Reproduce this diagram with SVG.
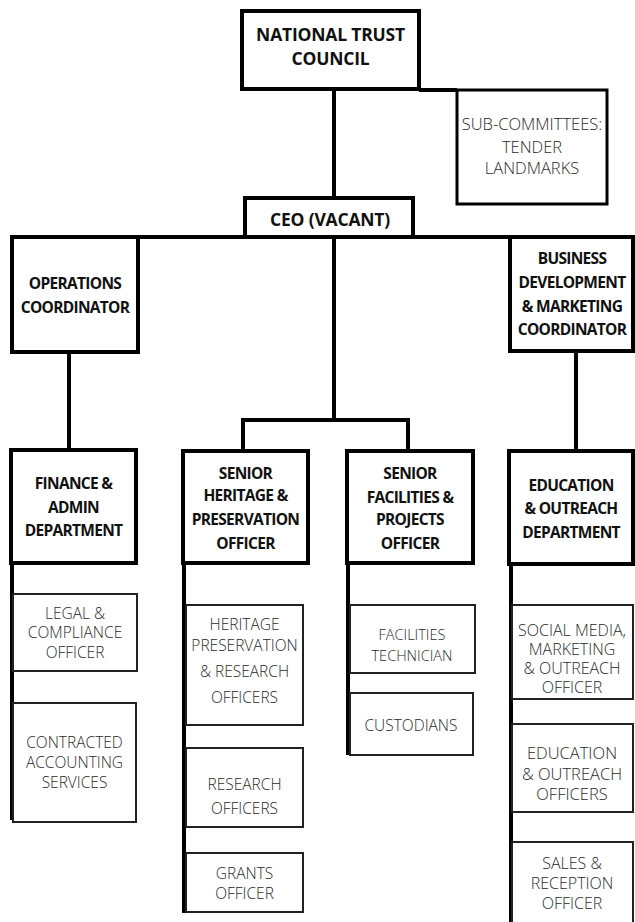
<svg xmlns="http://www.w3.org/2000/svg" width="635" height="922" viewBox="0 0 635 922">
<style>
.main{fill:#fff;stroke:#000;stroke-width:4}
.sub{fill:#fff;stroke:#222;stroke-width:2}
.subc{fill:#fff;stroke:#000;stroke-width:3}
.b{font-family:"Open Sans","Liberation Sans",sans-serif;font-weight:700;font-size:15.5px;fill:#111;text-anchor:middle;dominant-baseline:central;letter-spacing:-0.7px}
.bt{font-size:17.5px;letter-spacing:-0.2px}
.l{font-family:"Open Sans","Liberation Sans",sans-serif;font-weight:300;font-size:15.5px;fill:#2a2a2a;text-anchor:middle;dominant-baseline:central}
.c line,.c polyline{stroke:#000;stroke-width:4;fill:none}
</style>
<g class="c" id="connectors">
<line x1="334" y1="89" x2="334" y2="198"/>
<line x1="419" y1="90" x2="457" y2="90"/>
<line x1="138" y1="237" x2="510" y2="237"/>
<line x1="69" y1="352" x2="69" y2="450"/>
<line x1="576" y1="352" x2="576" y2="451"/>
<line x1="334" y1="237" x2="334" y2="420"/>
<polyline points="243,451 243,420 408,420 408,451"/>
<line x1="12" y1="563" x2="12" y2="820"/>
<line x1="184" y1="563" x2="184" y2="913"/>
<line x1="348" y1="563" x2="348" y2="755"/>
<line x1="511" y1="564" x2="511" y2="922"/>
</g>
<g id="ntc"><rect class="main" x="242" y="11" width="177" height="78"/>
<text class="b bt" x="330.5" y="34">NATIONAL TRUST</text><text class="b bt" x="330.5" y="58">COUNCIL</text></g>
<g id="subcommittees"><rect class="subc" x="457" y="90" width="150" height="114"/>
<text class="l" style="font-size:16.5px" x="532" y="123">SUB-COMMITTEES:</text><text class="l" style="font-size:16.5px" x="532" y="146">TENDER</text><text class="l" style="font-size:16.5px" x="532" y="167">LANDMARKS</text></g>
<g id="ceo"><rect class="main" x="245" y="198" width="168" height="39"/>
<text class="b bt" x="330" y="219">CEO (VACANT)</text></g>
<g id="operations"><rect class="main" x="12" y="237" width="126" height="115"/>
<text class="b" x="75" y="283">OPERATIONS</text><text class="b" x="75" y="307">COORDINATOR</text></g>
<g id="business"><rect class="main" x="510" y="237" width="123" height="114"/>
<text class="b" x="572" y="258">BUSINESS</text><text class="b" x="572" y="282">DEVELOPMENT</text><text class="b" x="572" y="306">&amp; MARKETING</text><text class="b" x="572" y="329">COORDINATOR</text></g>
<g id="finance"><rect class="main" x="11" y="450" width="125" height="113"/>
<text class="b" x="73.5" y="483">FINANCE &amp;</text><text class="b" x="73.5" y="507">ADMIN</text><text class="b" x="73.5" y="530">DEPARTMENT</text></g>
<g id="senior-heritage"><rect class="main" x="183" y="451" width="125" height="112"/>
<text class="b" x="245.5" y="473">SENIOR</text><text class="b" x="245.5" y="495">HERITAGE &amp;</text><text class="b" x="245.5" y="519">PRESERVATION</text><text class="b" x="245.5" y="543">OFFICER</text></g>
<g id="senior-facilities"><rect class="main" x="347" y="451" width="126" height="112"/>
<text class="b" x="410" y="473">SENIOR</text><text class="b" x="410" y="497">FACILITIES &amp;</text><text class="b" x="410" y="519">PROJECTS</text><text class="b" x="410" y="543">OFFICER</text></g>
<g id="education-dept"><rect class="main" x="509" y="451" width="124" height="113"/>
<text class="b" x="571" y="485">EDUCATION</text><text class="b" x="571" y="508">&amp; OUTREACH</text><text class="b" x="571" y="532">DEPARTMENT</text></g>
<g id="legal"><rect class="sub" x="13" y="594" width="124" height="77"/>
<text class="l" x="75" y="613">LEGAL &amp;</text><text class="l" x="75" y="632">COMPLIANCE</text><text class="l" x="75" y="652">OFFICER</text></g>
<g id="contracted"><rect class="sub" x="13" y="703" width="123" height="119"/>
<text class="l" x="74.5" y="742">CONTRACTED</text><text class="l" x="74.5" y="762">ACCOUNTING</text><text class="l" x="74.5" y="782">SERVICES</text></g>
<g id="heritage-officers"><rect class="sub" x="186" y="605" width="117" height="120"/>
<text class="l" x="244.5" y="624">HERITAGE</text><text class="l" x="244.5" y="645">PRESERVATION</text><text class="l" x="244.5" y="671">&amp; RESEARCH</text><text class="l" x="244.5" y="697">OFFICERS</text></g>
<g id="research"><rect class="sub" x="186" y="748" width="117" height="79"/>
<text class="l" x="244.5" y="784">RESEARCH</text><text class="l" x="244.5" y="808">OFFICERS</text></g>
<g id="grants"><rect class="sub" x="186" y="853" width="117" height="59"/>
<text class="l" x="244.5" y="873">GRANTS</text><text class="l" x="244.5" y="893">OFFICER</text></g>
<g id="fac-tech"><rect class="sub" x="350" y="605" width="125" height="68"/>
<text class="l" style="font-size:14.5px" x="412" y="634">FACILITIES</text><text class="l" style="font-size:14.5px" x="412" y="655">TECHNICIAN</text></g>
<g id="custodians"><rect class="sub" x="350" y="693" width="123" height="62"/>
<text class="l" x="411" y="725">CUSTODIANS</text></g>
<g id="social-media"><rect class="sub" x="512" y="605" width="121" height="94"/>
<text class="l" style="font-size:16px" x="572" y="630">SOCIAL MEDIA,</text><text class="l" style="font-size:16px" x="572" y="649">MARKETING</text><text class="l" style="font-size:16px" x="572" y="668">&amp; OUTREACH</text><text class="l" style="font-size:16px" x="572" y="687">OFFICER</text></g>
<g id="edu-officers"><rect class="sub" x="512" y="724" width="121" height="88"/>
<text class="l" style="font-size:16.5px" x="572" y="752">EDUCATION</text><text class="l" style="font-size:16.5px" x="572" y="773">&amp; OUTREACH</text><text class="l" style="font-size:16.5px" x="572" y="793">OFFICERS</text></g>
<g id="sales"><rect class="sub" x="512" y="842" width="121" height="90"/>
<text class="l" style="font-size:16px" x="572" y="863">SALES &amp;</text><text class="l" style="font-size:16px" x="572" y="883">RECEPTION</text><text class="l" style="font-size:16px" x="572" y="903">OFFICER</text></g>
</svg>
